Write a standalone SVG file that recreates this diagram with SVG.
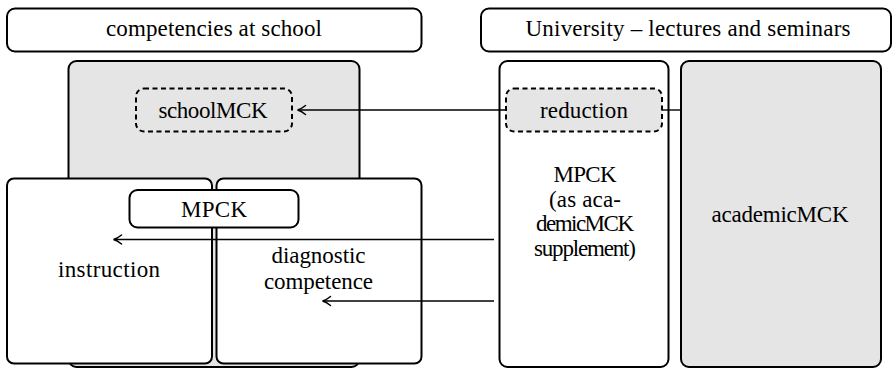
<svg xmlns="http://www.w3.org/2000/svg" width="893" height="368" viewBox="0 0 893 368">
<style>
.box{fill:#fff;stroke:#000;stroke-width:2}
.gray{fill:#e5e5e5;stroke:#000;stroke-width:2}
.dash{stroke:#000;stroke-width:2;stroke-dasharray:5 3.5}
.t{font-size:23px;fill:#000;text-anchor:middle}
.conn{stroke:#000;stroke-width:1.4;fill:none}
</style>
<defs>
<marker id="arr" markerUnits="userSpaceOnUse" viewBox="-9 -6 11 12" refX="0" refY="0" markerWidth="11" markerHeight="12" orient="auto">
<path d="M -7.5,-4.5 Q -3,-0.8 0.5,0 Q -3,0.8 -7.5,4.5" fill="none" stroke="#000" stroke-width="1.5" stroke-linecap="round"/>
</marker>
</defs>
<g font-family="Liberation Serif, DejaVu Serif, serif">
<g id="school-header">
<rect class="box" x="7" y="8.5" width="414.5" height="43" rx="8"/>
<text class="t" x="214" y="36" textLength="216">competencies at school</text>
</g>
<g id="uni-header">
<rect class="box" x="481" y="8.5" width="410" height="43" rx="8"/>
<text class="t" x="688" y="36" textLength="325">University – lectures and seminars</text>
</g>
<g id="school-area">
<rect class="gray" x="68.5" y="61" width="291" height="306" rx="8"/>
</g>
<g id="schoolMCK">
<rect class="dash" fill="#e5e5e5" x="136" y="88.5" width="156" height="43" rx="8"/>
<text class="t" x="213" y="118" textLength="109">schoolMCK</text>
</g>
<g id="instruction">
<rect class="box" x="7" y="178.5" width="205" height="185" rx="7"/>
<text class="t" x="109" y="277" textLength="102">instruction</text>
</g>
<g id="diagnostic">
<rect class="box" x="216.5" y="178.5" width="205" height="185" rx="7"/>
<text class="t" x="318.5" y="263" textLength="94">diagnostic</text>
<text class="t" x="318.5" y="289" textLength="109">competence</text>
</g>
<g id="MPCK-school">
<rect class="box" x="129.5" y="190" width="169" height="37.5" rx="8"/>
<text class="t" x="214" y="217" textLength="66">MPCK</text>
</g>
<g id="MPCK-uni">
<rect class="box" x="499.5" y="61" width="169" height="306" rx="8"/>
<text class="t" x="585" y="182" textLength="63">MPCK</text>
<text class="t" x="585" y="206.5" textLength="72">(as aca-</text>
<text class="t" x="585" y="231" textLength="98">demicMCK</text>
<text class="t" x="585" y="255.5" textLength="102">supplement)</text>
</g>
<g id="academicMCK">
<rect class="gray" x="681" y="61" width="200" height="306" rx="8"/>
<text class="t" x="780" y="222" textLength="137">academicMCK</text>
</g>
<g id="reduction">
<rect class="dash" fill="#e5e5e5" x="506" y="88.5" width="156" height="43" rx="8"/>
<text class="t" x="584" y="118" textLength="88">reduction</text>
</g>
</g>
<g id="connectors">
<line class="conn" x1="506" y1="110" x2="298" y2="110" marker-end="url(#arr)"/>
<line class="conn" x1="662" y1="110" x2="681" y2="110"/>
<line class="conn" x1="494" y1="239.5" x2="114" y2="239.5" marker-end="url(#arr)"/>
<line class="conn" x1="494" y1="301" x2="323" y2="301" marker-end="url(#arr)"/>
</g>
</svg>
